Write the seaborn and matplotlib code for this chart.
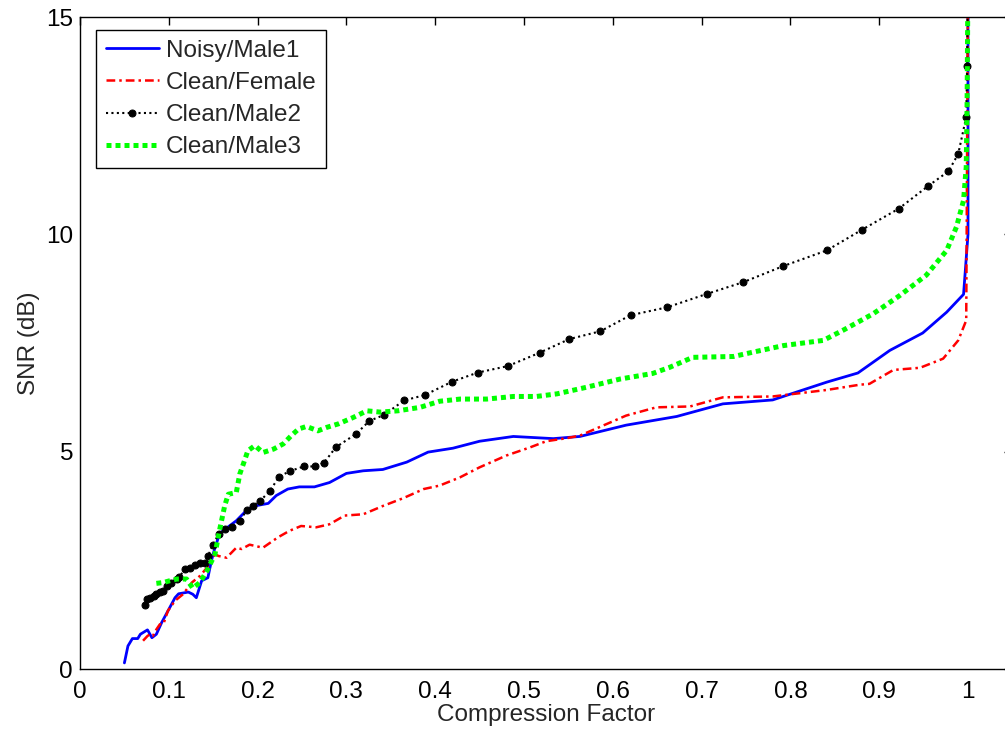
import matplotlib
matplotlib.use("Agg")
import matplotlib.pyplot as plt
import seaborn as sns
import pandas as pd

# SNR versus compression factor for four recordings
noisy_m1_x = [0.050, 0.054, 0.059, 0.065, 0.068, 0.076, 0.081, 0.086, 0.092, 0.101,
              0.107, 0.111, 0.122, 0.127, 0.131, 0.137, 0.144, 0.148, 0.151, 0.157,
              0.161, 0.176, 0.189, 0.199, 0.212, 0.221, 0.234, 0.247, 0.264, 0.281,
              0.300, 0.319, 0.341, 0.368, 0.392, 0.420, 0.450, 0.488, 0.533, 0.563,
              0.615, 0.672, 0.724, 0.780, 0.841, 0.876, 0.912, 0.949, 0.976, 0.995,
              1.000, 1.000]
noisy_m1_y = [0.14, 0.53, 0.70, 0.70, 0.80, 0.90, 0.72, 0.80, 1.07, 1.41,
              1.64, 1.73, 1.77, 1.72, 1.64, 2.03, 2.10, 2.49, 2.72, 3.10,
              3.18, 3.41, 3.68, 3.76, 3.81, 3.99, 4.14, 4.19, 4.19, 4.29,
              4.50, 4.56, 4.59, 4.76, 4.99, 5.08, 5.24, 5.35, 5.30, 5.35,
              5.61, 5.81, 6.10, 6.19, 6.60, 6.81, 7.33, 7.73, 8.21, 8.62,
              10.0, 16.0]

clean_f_x = [0.071, 0.076, 0.079, 0.082, 0.086, 0.090, 0.094, 0.099, 0.107, 0.116,
             0.126, 0.135, 0.143, 0.152, 0.156, 0.165, 0.176, 0.182, 0.191, 0.206,
             0.223, 0.236, 0.249, 0.266, 0.281, 0.298, 0.319, 0.341, 0.364, 0.387,
             0.405, 0.428, 0.450, 0.480, 0.507, 0.525, 0.548, 0.563, 0.589, 0.615,
             0.649, 0.687, 0.724, 0.780, 0.841, 0.878, 0.889, 0.916, 0.946, 0.972,
             0.989, 0.998, 1.000]
clean_f_y = [0.65, 0.76, 0.80, 0.76, 0.91, 1.03, 1.04, 1.34, 1.57, 1.72,
             1.99, 2.14, 2.33, 2.64, 2.60, 2.56, 2.79, 2.76, 2.86, 2.79,
             3.03, 3.18, 3.29, 3.26, 3.33, 3.53, 3.56, 3.75, 3.93, 4.14,
             4.22, 4.41, 4.64, 4.91, 5.10, 5.24, 5.31, 5.37, 5.60, 5.83,
             6.02, 6.04, 6.25, 6.27, 6.42, 6.54, 6.56, 6.88, 6.93, 7.14,
             7.56, 8.02, 16.0]

clean_m2_x = [0.073, 0.076, 0.079, 0.083, 0.086, 0.090, 0.094, 0.098, 0.103, 0.109,
              0.112, 0.118, 0.124, 0.129, 0.135, 0.141, 0.144, 0.150, 0.156, 0.163,
              0.171, 0.180, 0.188, 0.195, 0.203, 0.214, 0.224, 0.236, 0.252, 0.265,
              0.275, 0.288, 0.311, 0.326, 0.342, 0.365, 0.388, 0.419, 0.448, 0.482,
              0.518, 0.551, 0.586, 0.620, 0.661, 0.706, 0.747, 0.792, 0.841, 0.881,
              0.922, 0.955, 0.978, 0.989, 0.998, 0.999, 1.000]
clean_m2_y = [1.47, 1.61, 1.64, 1.68, 1.72, 1.76, 1.80, 1.91, 1.99, 2.07,
              2.12, 2.30, 2.33, 2.40, 2.43, 2.45, 2.60, 2.86, 3.10, 3.22,
              3.26, 3.41, 3.66, 3.76, 3.87, 4.10, 4.42, 4.55, 4.66, 4.66,
              4.75, 5.10, 5.41, 5.71, 5.84, 6.18, 6.30, 6.61, 6.82, 6.97,
              7.28, 7.59, 7.77, 8.14, 8.32, 8.63, 8.90, 9.27, 9.63, 10.11,
              10.59, 11.11, 11.45, 11.85, 12.70, 13.88, 16.0]

clean_m3_x = [0.086, 0.094, 0.101, 0.109, 0.120, 0.127, 0.135, 0.143, 0.152, 0.157,
              0.163, 0.167, 0.176, 0.180, 0.184, 0.189, 0.197, 0.206, 0.218, 0.229,
              0.238, 0.246, 0.255, 0.268, 0.278, 0.291, 0.308, 0.323, 0.338, 0.358,
              0.383, 0.405, 0.428, 0.458, 0.488, 0.514, 0.537, 0.570, 0.608, 0.645,
              0.664, 0.690, 0.736, 0.758, 0.792, 0.837, 0.859, 0.893, 0.923, 0.953,
              0.976, 0.987, 0.995, 0.998, 0.999, 1.000]
clean_m3_y = [1.97, 1.99, 2.03, 2.07, 2.07, 1.86, 1.99, 2.26, 2.64, 3.18,
              3.76, 4.02, 4.06, 4.49, 4.72, 5.02, 5.14, 4.98, 5.06, 5.18,
              5.37, 5.52, 5.58, 5.48, 5.56, 5.64, 5.79, 5.94, 5.91, 5.94,
              6.02, 6.16, 6.21, 6.21, 6.27, 6.27, 6.33, 6.48, 6.67, 6.80,
              6.94, 7.17, 7.19, 7.29, 7.44, 7.56, 7.79, 8.17, 8.59, 9.06,
              9.63, 10.17, 10.78, 11.55, 13.10, 16.0]

labels = ["Noisy/Male1", "Clean/Female", "Clean/Male2", "Clean/Male3"]
x_ticks = [0, 0.1, 0.2, 0.3, 0.4, 0.5, 0.6, 0.7, 0.8, 0.9, 1]
x_tick_labels = ["0", "0.1", "0.2", "0.3", "0.4", "0.5", "0.6", "0.7", "0.8", "0.9", "1"]
y_ticks = [0, 5, 10, 15]

sns.set_style("white")
plt.rcParams["font.family"] = ["Liberation Sans", "DejaVu Sans"]
FS = 17.5

fig = plt.figure(figsize=(10.05, 7.32), dpi=100)
ax = fig.add_axes([80 / 1005, 63 / 732, 932.4 / 1005, 652 / 732])

series = [
    (noisy_m1_x, noisy_m1_y, "#0000ff"),
    (clean_f_x, clean_f_y, "#ff0000"),
    (clean_m2_x, clean_m2_y, "#000000"),
    (clean_m3_x, clean_m3_y, "#00ff00"),
]
for (xs, ys, col), lab in zip(series, labels):
    df = pd.DataFrame({"cf": xs, "snr": ys})
    sns.lineplot(data=df, x="cf", y="snr", ax=ax, color=col, sort=False,
                 estimator=None, label=lab, legend=False)

l_blue, l_red, l_black, l_green = ax.lines[:4]
l_blue.set_linewidth(2.0)
l_red.set_linewidth(1.8)
l_red.set_dashes((3.5, 1.6, 1.0, 1.6))
l_black.set_linewidth(1.5)
l_black.set_dashes((1.0, 1.6))
l_black.set_marker("o")
l_black.set_markersize(5)
l_black.set_markerfacecolor("black")
l_black.set_markeredgecolor("black")
l_green.set_linewidth(3.6)
l_green.set_dashes((1.0, 0.8))
l_green.set_dash_capstyle("butt")

ax.set_xlim(0, 1.05)
ax.set_ylim(0, 15)
ax.set_xticks(x_ticks)
ax.set_xticklabels(x_tick_labels)
ax.set_yticks(y_ticks)
ax.tick_params(direction="in", length=6, width=1, top=True, right=True,
               labelsize=FS, colors="black")
ax.tick_params(axis="x", pad=9)
ax.tick_params(axis="y", pad=5)
for sp in ax.spines.values():
    sp.set_color("black")
    sp.set_linewidth(1.0)

ax.set_xlabel("Compression Factor", fontsize=FS, labelpad=0)
ax.set_ylabel("SNR (dB)", fontsize=FS, labelpad=4)

leg = ax.legend(handles=[l_blue, l_red, l_black, l_green], labels=labels,
                loc="upper left", bbox_to_anchor=(16 / 932.4, 1 - 13 / 652),
                borderaxespad=0, fontsize=FS, frameon=True, fancybox=False,
                edgecolor="black", framealpha=1, handlelength=2.2,
                handletextpad=0.28, labelspacing=0.42, borderpad=0.4)
leg.get_frame().set_linewidth(1.0)

fig.savefig("out.png", dpi=100)
